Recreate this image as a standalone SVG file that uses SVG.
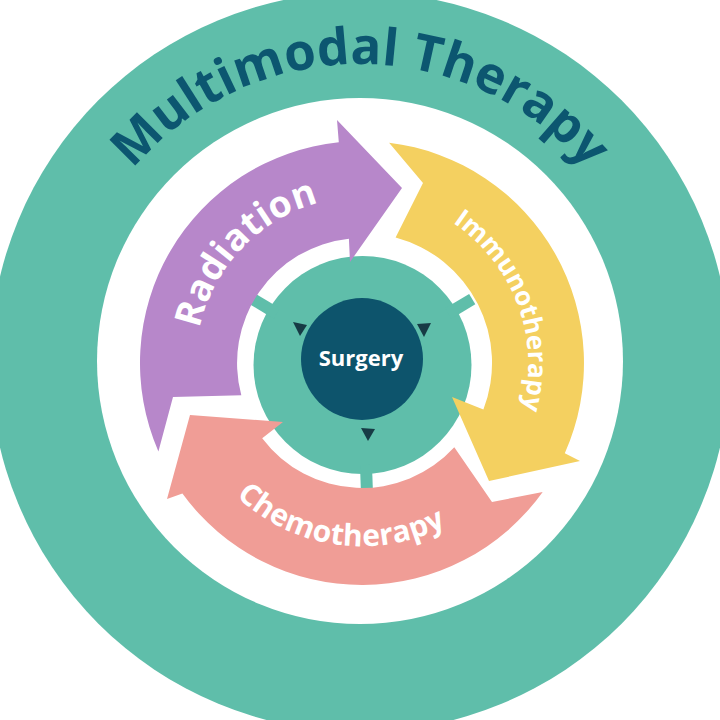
<svg xmlns="http://www.w3.org/2000/svg" width="720" height="720" viewBox="0 0 720 720">
<defs>
<style>
.teal{fill:#5FBEAA}
.txt{font-family:"Open Sans","Noto Sans","DejaVu Sans",sans-serif;font-weight:700}
.lbl{fill:#FFFFFF}
.title{fill:#0C5670;font-size:51px}
.tri{fill:#173B45}
</style>
<path id="titlePath" d="M62,362 A298,298 0 0 1 658,362" fill="none"/>
<path id="radPath" d="M247.7,483.4 A166,166 0 0 1 476.3,242.6" fill="none"/>
<path id="immPath" d="M302.5,203.8 A170,170 0 0 1 421.5,522.2" fill="none"/>
<path id="chemoPath" d="M181.8,331.2 A183,183 0 1 0 544.0,382.1" fill="none"/>
</defs>
<rect width="720" height="720" fill="#FFFFFF"/>
<g id="outer-ring">
<circle cx="360" cy="362" r="370" class="teal"/>
<circle cx="360" cy="361" r="263" fill="#FFFFFF"/>
<text class="txt title"><textPath href="#titlePath" startOffset="50%" text-anchor="middle">Multimodal Therapy</textPath></text>
</g>
<g id="center-ring">
<circle cx="362.5" cy="365" r="109" class="teal"/>
</g>
<g id="connectors">
<rect x="100" y="-6" width="28" height="12" class="teal" transform="translate(362.5,365) rotate(88)"/>
<rect x="100" y="-6" width="28" height="12" class="teal" transform="translate(362.5,365) rotate(211)"/>
<rect x="100" y="-6" width="28" height="12" class="teal" transform="translate(362.5,365) rotate(329)"/>
</g>
<g id="radiation">
<path d="M158.4,451.5 A222,222 0 0 1 338.8,142.2 L337,120 L402,188 L350,262 L348.9,238.7 A125,125 0 0 0 241.3,395.3 L173,397 Z" fill="#B787CA"/>
<text class="txt lbl" font-size="37" letter-spacing="0.5"><textPath href="#radPath" startOffset="50%" text-anchor="middle">Radiation</textPath></text>
</g>
<g id="immunotherapy">
<path d="M389.1,142.7 A222,222 0 0 1 564.8,453.3 L580,461 L489,481 L452,397 L483.4,409.6 A130,130 0 0 0 395.6,237.4 L423,183 Z" fill="#F4D060"/>
<text class="txt lbl" font-size="26"><textPath href="#immPath" startOffset="50%" text-anchor="middle">Immunotherapy</textPath></text>
</g>
<g id="chemotherapy">
<path d="M542.7,491.9 A222,222 0 0 1 182.4,493.5 L167,499 L190,415 L283,422 L262.2,438.2 A125,125 0 0 0 454.3,447.3 L492,502 Z" fill="#F09D96"/>
<text class="txt lbl" font-size="30" letter-spacing="0.3"><textPath href="#chemoPath" startOffset="50%" text-anchor="middle">Chemotherapy</textPath></text>
</g>
<g id="surgery">
<circle cx="362" cy="359" r="61" fill="#0D546C"/>
<text class="txt lbl" x="361" y="366" font-size="22" text-anchor="middle">Surgery</text>
<polygon class="tri" points="293,322 307,325 300,336"/>
<polygon class="tri" points="417,324 431,323 424,337"/>
<polygon class="tri" points="361,428 375,429 368,441"/>
</g>
</svg>
